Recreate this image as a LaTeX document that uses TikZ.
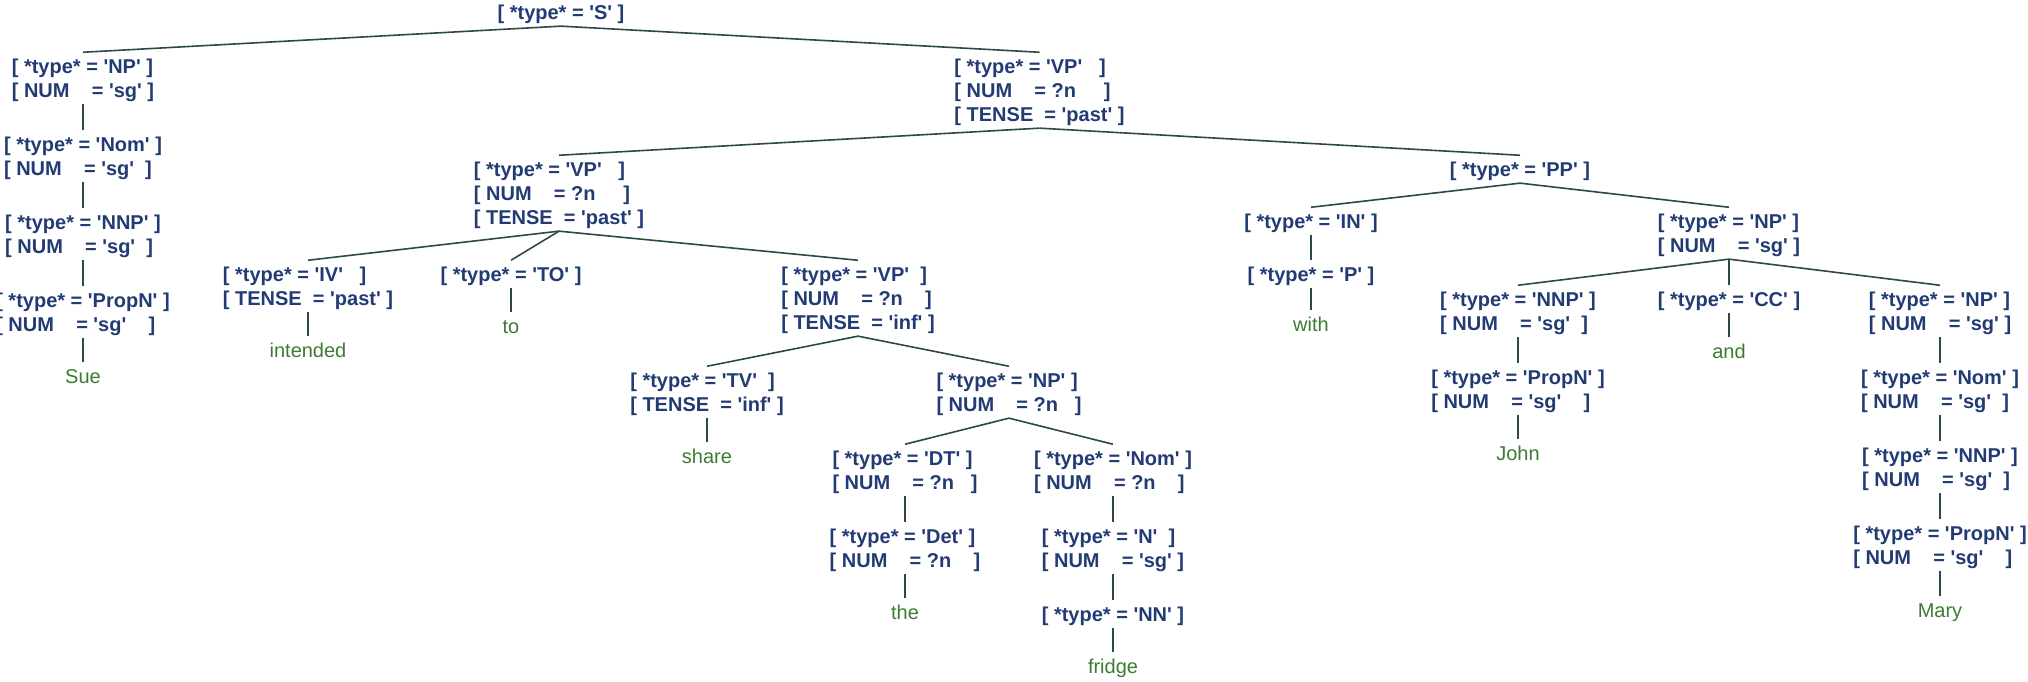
\documentclass[tikz,border=0pt]{standalone}
\usepackage{fontspec}
\newfontfamily\nodefont{Liberation Sans}[Ligatures=TeXOff]
\definecolor{nodeblue}{HTML}{223B74}
\definecolor{leafgreen}{HTML}{3E7B32}
\definecolor{linecol}{HTML}{2C4848}
\newcommand\st{\rule[-4.75pt]{0pt}{24pt}}
\tikzset{
  fs/.style={anchor=north, yshift=15.75pt, inner xsep=0pt, inner ysep=1.75pt, align=left,
    font=\nodefont\bfseries\fontsize{20}{24}\selectfont, text=nodeblue},
  leaf/.style={anchor=north, yshift=15.75pt, inner xsep=0pt, inner ysep=1.75pt,
    font=\nodefont\fontsize{20}{24}\selectfont, text=leafgreen},
  edge/.style={draw=linecol, line width=1.6pt},
}
\begin{document}
\begin{tikzpicture}[x=1pt,y=-1pt]
\useasboundingbox (0,0) rectangle (2028,681);
% root
\node[fs] (S) at (561,14) {\st[~*type*~=~'S'~]};
% left NP chain
\node[fs] (NP1) at (83,68) {\st[~*type*~=~'NP'~]\\\st[~NUM~~~~=~'sg'~]};
\node[fs] (Nom1) at (83,146) {\st[~*type*~=~'Nom'~]\\\st[~NUM~~~~=~'sg'~~]};
\node[fs] (NNP1) at (83,224) {\st[~*type*~=~'NNP'~]\\\st[~NUM~~~~=~'sg'~~]};
\node[fs] (PropN1) at (83,302) {\st[~*type*~=~'PropN'~]\\\st[~NUM~~~~=~'sg'~~~~]};
\node[leaf] (Sue) at (83,378) {\st Sue};
% VP
\node[fs] (VP) at (1039.5,68) {\st[~*type*~=~'VP'~~~]\\\st[~NUM~~~~=~?n~~~~~]\\\st[~TENSE~~=~'past'~]};
\node[fs] (VP2) at (559,171) {\st[~*type*~=~'VP'~~~]\\\st[~NUM~~~~=~?n~~~~~]\\\st[~TENSE~~=~'past'~]};
\node[fs] (IV) at (308,276) {\st[~*type*~=~'IV'~~~]\\\st[~TENSE~~=~'past'~]};
\node[leaf] (intended) at (308,352) {\st intended};
\node[fs] (TO) at (511,276) {\st[~*type*~=~'TO'~]};
\node[leaf] (to) at (511,328) {\st to};
\node[fs] (VP3) at (858,276) {\st[~*type*~=~'VP'~~]\\\st[~NUM~~~~=~?n~~~~]\\\st[~TENSE~~=~'inf'~]};
\node[fs] (TV) at (707,382) {\st[~*type*~=~'TV'~~]\\\st[~TENSE~~=~'inf'~]};
\node[leaf] (share) at (707,458) {\st share};
\node[fs] (NP3) at (1009,382) {\st[~*type*~=~'NP'~]\\\st[~NUM~~~~=~?n~~~]};
\node[fs] (DT) at (905,460) {\st[~*type*~=~'DT'~]\\\st[~NUM~~~~=~?n~~~]};
\node[fs] (Det) at (905,538) {\st[~*type*~=~'Det'~]\\\st[~NUM~~~~=~?n~~~~]};
\node[leaf] (the) at (905,614) {\st the};
\node[fs] (Nom2) at (1113,460) {\st[~*type*~=~'Nom'~]\\\st[~NUM~~~~=~?n~~~~]};
\node[fs] (N) at (1113,538) {\st[~*type*~=~'N'~~]\\\st[~NUM~~~~=~'sg'~]};
\node[fs] (NN) at (1113,616) {\st[~*type*~=~'NN'~]};
\node[leaf] (fridge) at (1113,668) {\st fridge};
% PP
\node[fs] (PP) at (1520,171) {\st[~*type*~=~'PP'~]};
\node[fs] (IN) at (1311,223) {\st[~*type*~=~'IN'~]};
\node[fs] (P) at (1311,276) {\st[~*type*~=~'P'~]};
\node[leaf] (with) at (1311,326) {\st with};
\node[fs] (NP4) at (1729,223) {\st[~*type*~=~'NP'~]\\\st[~NUM~~~~=~'sg'~]};
\node[fs] (NNP2) at (1518,301) {\st[~*type*~=~'NNP'~]\\\st[~NUM~~~~=~'sg'~~]};
\node[fs] (PropN2) at (1518,379) {\st[~*type*~=~'PropN'~]\\\st[~NUM~~~~=~'sg'~~~~]};
\node[leaf] (John) at (1518,455) {\st John};
\node[fs] (CC) at (1729,301) {\st[~*type*~=~'CC'~]};
\node[leaf] (and) at (1729,353) {\st and};
\node[fs] (NP5) at (1940,301) {\st[~*type*~=~'NP'~]\\\st[~NUM~~~~=~'sg'~]};
\node[fs] (Nom3) at (1940,379) {\st[~*type*~=~'Nom'~]\\\st[~NUM~~~~=~'sg'~~]};
\node[fs] (NNP3) at (1940,457) {\st[~*type*~=~'NNP'~]\\\st[~NUM~~~~=~'sg'~~]};
\node[fs] (PropN3) at (1940,535) {\st[~*type*~=~'PropN'~]\\\st[~NUM~~~~=~'sg'~~~~]};
\node[leaf] (Mary) at (1940,612) {\st Mary};
% edges
\foreach \a/\b in {S/NP1, S/VP, NP1/Nom1, Nom1/NNP1, NNP1/PropN1, PropN1/Sue,
  VP/VP2, VP/PP, VP2/IV, VP2/TO, VP2/VP3, IV/intended, TO/to,
  VP3/TV, VP3/NP3, TV/share, NP3/DT, NP3/Nom2, DT/Det, Det/the,
  Nom2/N, N/NN, NN/fridge, PP/IN, PP/NP4, IN/P, P/with,
  NP4/NNP2, NP4/CC, NP4/NP5, NNP2/PropN2, PropN2/John, CC/and,
  NP5/Nom3, Nom3/NNP3, NNP3/PropN3, PropN3/Mary}
  \draw[edge] (\a.south) -- (\b.north);
\end{tikzpicture}
\end{document}
